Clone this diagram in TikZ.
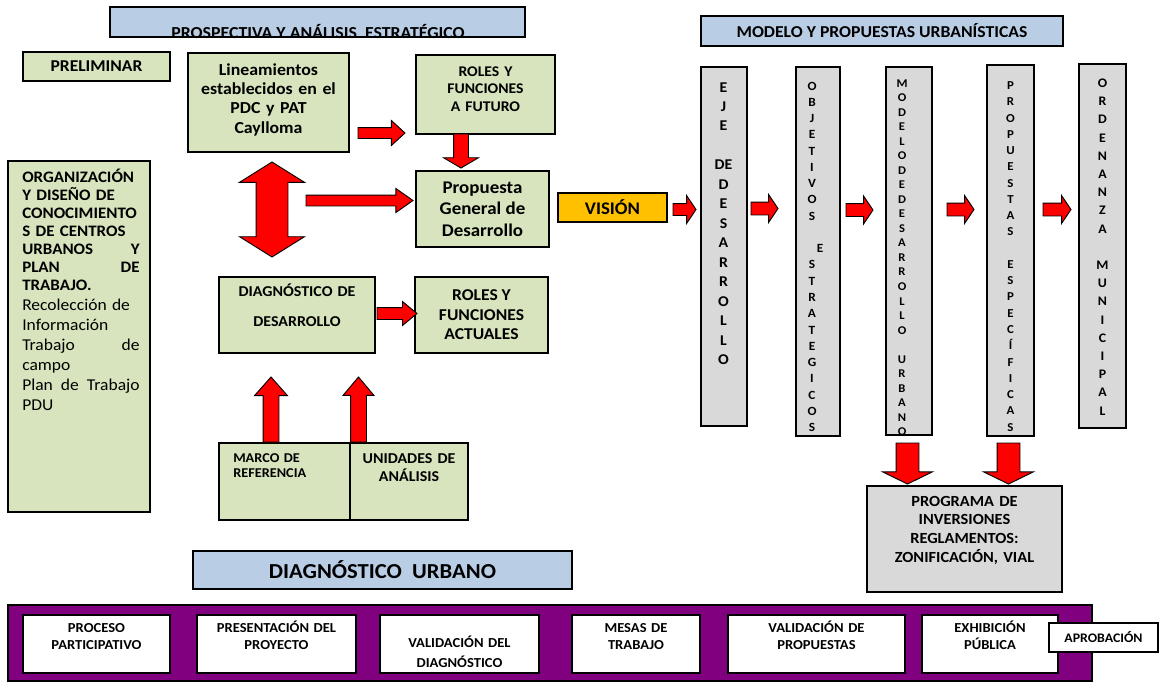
\documentclass[tikz,border=0pt]{standalone}
\usepackage{fontspec}
\setmainfont{Carlito}[FakeStretch=1.06]
\usepackage{tikz}
\definecolor{boxgreen}{RGB}{215, 228, 189}
\definecolor{boxblue}{RGB}{185, 205, 229}
\definecolor{boxgray}{RGB}{217, 217, 217}
\definecolor{visionorange}{RGB}{255, 192, 0}
\definecolor{barpurple}{RGB}{128, 0, 128}
\usetikzlibrary{shapes.arrows, calc}
\newcommand{\fsz}[2]{\fontsize{#1}{#2}\selectfont}

\begin{document}
\begin{tikzpicture}[
    x=0.75pt, y=-0.75pt,
    sz/.style 2 args={minimum width=#1*0.75pt, minimum height=#2*0.75pt},
    fs/.style 2 args={font=\bfseries\fsz{#1}{#2}},
    box/.style={rectangle, draw=black, line width=1pt, inner sep=0pt,
                outer sep=0pt, align=center, font=\bfseries},
    gbox/.style={box, fill=boxgreen},
    hbox/.style={box, fill=boxblue},
    cbox/.style={box, fill=boxgray},
    wbox/.style={box, fill=white},
    txt/.style={inner sep=0pt, anchor=base, align=center, font=\bfseries},
    coltxt/.style={txt, text width=30pt},
    barrow/.style n args={4}{single arrow, draw=black, fill=red, line width=0.7pt,
                inner xsep=0pt, outer sep=0pt, anchor=tail,
                minimum height=#1*0.75pt, inner ysep=#3*0.375pt,
                single arrow head extend=(#2-#3)*0.375pt, single arrow tip angle=#4},
    darrow/.style n args={4}{double arrow, draw=black, fill=red, line width=0.7pt,
                inner xsep=0pt, outer sep=0pt,
                minimum height=#1*0.75pt, inner ysep=#3*0.375pt,
                double arrow head extend=(#2-#3)*0.375pt, double arrow tip angle=#4}
]
    \fill[white] (0,0) rectangle (1165,683);

    % Headers
    \node[hbox, sz={415}{30}] (prosp) at (317.5,22) {};
    \node[txt, fs={12.6}{14}] (prosptxt) at (318,38.5) {PROSPECTIVA Y ANÁLISIS\ \ ESTRATÉGICO};
    \node[hbox, sz={362}{30}, fs={12.5}{14}] (model) at (882,31) {MODELO Y PROPUESTAS URBANÍSTICAS};
    \node[hbox, sz={379}{38}, fs={16}{18}] (durb) at (382.5,570) {DIAGNÓSTICO\ \ URBANO};

    % Preliminar
    \node[gbox, sz={147}{29}, fs={12.4}{14}] (prelim) at (96.5,66.5) {PRELIMINAR};
    \node[gbox, sz={142}{351}] (org) at (79,336.5) {};
    \node[txt, anchor=base west, text width=88pt, align=left, font=\fsz{12}{13.5}] (orgtxt) at (22,182.5)
        {{\bfseries ORGANIZACIÓN\\Y DISEÑO DE\\CONOCIMIENTO\\S DE CENTROS\\URBANOS\hfill Y\\PLAN\hfill DE\\TRABAJO.\par}%
         {\fsz{12.4}{15}Recolección de\\Información\\Trabajo\hfill de\\campo\\Plan\hfill de\hfill Trabajo\\PDU\par}};

    % Prospectiva
    \node[gbox, sz={161}{99}] (lin) at (268.5,102.5) {};
    \node[txt, text width=118pt, fs={12.6}{14.5}] (lintxt) at (268.5,75) {Lineamientos\\establecidos en el\\PDC y PAT\\Caylloma};
    \node[gbox, sz={139}{79}] (rfut) at (485.5,94.5) {};
    \node[txt, text width=100pt, fs={11.1}{13.1}] (rfuttxt) at (485.5,76.5) {ROLES Y\\FUNCIONES\\A FUTURO};
    \node[gbox, sz={133}{76}, fs={13.4}{16.3}] (prop) at (482.5,209) {Propuesta\\General de\\Desarrollo};
    \node[box, fill=visionorange, sz={109}{29}, fs={13.3}{15}] (vision) at (612.5,207.5) {VISIÓN};

    % Diagnostico
    \node[gbox, sz={156}{76}] (ddes) at (297,315) {};
    \node[txt, text width=115pt, fs={11.3}{22.5}] (ddestxt) at (297,296.9) {DIAGNÓSTICO DE\\DESARROLLO};
    \node[gbox, sz={133}{76}, fs={12.4}{14.6}] (ract) at (481.5,315) {ROLES Y\\FUNCIONES\\ACTUALES};
    \node[gbox, sz={131}{77}] (marco) at (284.5,481.5) {};
    \node[gbox, sz={118}{77}] (unid) at (409,481.5) {};
    \node[txt, anchor=base west, text width=85pt, align=left, fs={10.1}{11.25}] (marcotxt) at (233,462.3) {MARCO DE\\REFERENCIA};
    \node[txt, text width=85pt, fs={11.3}{13.5}] (unidtxt) at (409,463.9) {UNIDADES DE\\ANÁLISIS};

    % Modelo columns
    \node[cbox, sz={46}{359}] (eje) at (724,246.5) {};
    \node[cbox, sz={44}{369}] (obj) at (818,251.5) {};
    \node[cbox, sz={46}{368}] (mdu) at (909,251) {};
    \node[cbox, sz={47}{371}] (pesp) at (1010.5,250.5) {};
    \node[cbox, sz={47}{364}] (ordm) at (1102.5,246) {};
    \node[coltxt, fs={11.2}{14.6}] (ejetxt) at (723.5,92)
        {E\\J\\E\\\mbox{}\\DE\\D\\E\\S\\A\\R\\R\\O\\L\\L\\O};
    \node[coltxt, fs={9.4}{12.2}] (objtxt) at (812,90)
        {O\\B\\J\\E\\T\\I\\V\\O\\S\\\mbox{}\\\hspace*{12pt}E\\S\\T\\R\\A\\T\\E\\G\\I\\C\\O\\S};
    \node[coltxt, fs={8.9}{10.9}] (mdutxt) at (902,87)
        {M\\O\\D\\E\\L\\O\\D\\E\\D\\E\\S\\A\\R\\R\\O\\L\\L\\O\\\mbox{}\\U\\R\\B\\A\\N\\O};
    \node[coltxt, fs={9.1}{12.2}] (pesptxt) at (1010.5,89.5)
        {P\\R\\O\\P\\U\\E\\S\\T\\A\\S\\\mbox{}\\E\\S\\P\\E\\C\\Í\\F\\I\\C\\A\\S};
    \node[coltxt, fs={9.8}{13.65}] (ordmtxt) at (1102.5,87.5)
        {O\\R\\D\\E\\N\\A\\N\\Z\\A\\\mbox{}\\M\\U\\N\\I\\C\\I\\P\\A\\L};
    \node[cbox, sz={195}{106}] (prog) at (964.5,539) {};
    \node[txt, text width=140pt, fs={11.6}{14}] (progtxt) at (964.5,506) {PROGRAMA DE\\INVERSIONES\\REGLAMENTOS:\\ZONIFICACIÓN, VIAL};

    % Bottom bar
    \node[box, fill=barpurple, sz={1084}{76}] (bar) at (550,643) {};
    \node[wbox, sz={147}{58}] (b1) at (96.5,644) {};
    \node[wbox, sz={159}{58}] (b2) at (276.5,644) {};
    \node[wbox, sz={159}{58}] (b3) at (459.5,644) {};
    \node[wbox, sz={128}{58}] (b4) at (636,644) {};
    \node[wbox, sz={177}{58}] (b5) at (816.5,644) {};
    \node[wbox, sz={136}{58}] (b6) at (990,644) {};
    \node[wbox, sz={109}{29}, fs={9.8}{11}] (b7) at (1103.5,637.5) {APROBACIÓN};
    \node[txt, text width=110pt, fs={10.3}{12.75}] (b1txt) at (96.5,632.5) {PROCESO\\PARTICIPATIVO};
    \node[txt, text width=110pt, fs={10.3}{12.75}] (b2txt) at (276.5,632.5) {PRESENTACIÓN DEL\\PROYECTO};
    \node[txt, text width=110pt, fs={10.3}{15}] (b3txt) at (459.5,647.5) {VALIDACIÓN DEL\\DIAGNÓSTICO};
    \node[txt, text width=110pt, fs={10.3}{12.75}] (b4txt) at (636,632.5) {MESAS DE\\TRABAJO};
    \node[txt, text width=110pt, fs={10.3}{12.75}] (b5txt) at (816.5,632.5) {VALIDACIÓN DE\\PROPUESTAS};
    \node[txt, text width=110pt, fs={10.3}{12.75}] (b6txt) at (990,632.5) {EXHIBICIÓN\\PÚBLICA};

    % Arrows
    \node[barrow={47}{24}{10}{85}] (a1) at (358,133) {};
    \node[barrow={34}{34}{14}{119}, rotate=-90] (a2) at (461,134) {};
    \node[barrow={107}{23}{10}{70}] (a3) at (306,200.5) {};
    \node[darrow={95}{64}{31}{116}, rotate=90] (dbl) at (272,209.5) {};
    \node[barrow={23}{27}{11}{112}] (a4) at (673,209.5) {};
    \node[barrow={27}{27}{12}{112}] (a5) at (751,208.5) {};
    \node[barrow={27}{27}{12}{112}] (a6) at (846,210) {};
    \node[barrow={27}{27}{12}{112}] (a7) at (947,209.5) {};
    \node[barrow={28}{27}{12}{112}] (a8) at (1043,209.5) {};
    \node[barrow={40}{23}{11}{79}] (a9) at (377,313.5) {};
    \node[barrow={65}{32}{15}{83}, rotate=90] (u1) at (271,442) {};
    \node[barrow={65}{30}{15}{80}, rotate=90] (u2) at (358.5,442) {};
    \node[barrow={41}{49}{22}{128}, rotate=-90] (d1) at (907.5,443) {};
    \node[barrow={41}{49}{22}{128}, rotate=-90] (d2) at (1008.5,443) {};
\end{tikzpicture}
\end{document}
